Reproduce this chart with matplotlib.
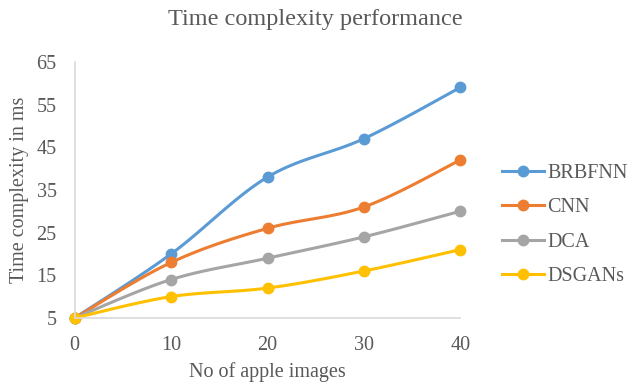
import numpy as np
import matplotlib.pyplot as plt

plt.rcParams['font.family'] = ['Liberation Serif', 'DejaVu Serif']

x_vals = [0, 10, 20, 30, 40]
series_names = ['BRBFNN', 'CNN', 'DCA', 'DSGANs']
brbfnn = [5, 20, 38, 47, 59]
cnn = [5, 18, 26, 31, 42]
dca = [5, 14, 19, 24, 30]
dsgans = [5, 10, 12, 16, 21]
colors = ['#5B9BD5', '#ED7D31', '#A5A5A5', '#FFC000']


def smooth(xs, ys, n=30):
    # excel-like smoothed line: bezier segments with catmull-rom control points
    xs = np.asarray(xs, float)
    ys = np.asarray(ys, float)
    px = np.concatenate([[xs[0]], xs, [xs[-1]]])
    py = np.concatenate([[ys[0]], ys, [ys[-1]]])
    outx, outy = [], []
    t = np.linspace(0, 1, n)
    for i in range(1, len(px) - 2):
        p0 = np.array([px[i], py[i]])
        p3 = np.array([px[i + 1], py[i + 1]])
        p1 = p0 + (np.array([px[i + 1], py[i + 1]]) - np.array([px[i - 1], py[i - 1]])) / 6
        p2 = p3 - (np.array([px[i + 2], py[i + 2]]) - np.array([px[i], py[i]])) / 6
        b = ((1 - t) ** 3)[:, None] * p0 + (3 * (1 - t) ** 2 * t)[:, None] * p1 \
            + (3 * (1 - t) * t ** 2)[:, None] * p2 + (t ** 3)[:, None] * p3
        outx.extend(b[:, 0])
        outy.extend(b[:, 1])
    return outx, outy


fig = plt.figure(figsize=(6.28, 3.84), dpi=100)
ax = fig.add_axes([0.119, 0.172, 0.614, 0.667])

for name, ys, c in zip(series_names, [brbfnn, cnn, dca, dsgans], colors):
    sx, sy = smooth(x_vals, ys)
    ax.plot(sx, sy, color=c, lw=2.2, solid_capstyle='round', clip_on=False)
    ax.plot(x_vals, ys, 'o', color=c, ms=7.5, clip_on=False)
    ax.plot([], [], '-o', color=c, lw=2.2, ms=7.5, label=name)

ax.set_xlim(0, 40)
ax.set_ylim(5, 65)
ax.set_xticks(x_vals)
ax.set_yticks([5, 15, 25, 35, 45, 55, 65])
ax.tick_params(axis='y', length=0, labelsize=14.5, labelcolor='#595959', pad=13)
ax.tick_params(axis='x', length=0, labelsize=14.5, labelcolor='#595959', pad=13)
for s in ['top', 'right']:
    ax.spines[s].set_visible(False)
for s in ['left', 'bottom']:
    ax.spines[s].set_color('#D9D9D9')
    ax.spines[s].set_linewidth(1.2)

ax.set_xlabel('No of apple images', fontsize=14.5, color='#595959')
ax.set_ylabel('Time complexity in ms', fontsize=14.5, color='#595959')
ax.xaxis.set_label_coords(0.5, -0.211)
ax.yaxis.set_label_coords(-0.143, 0.5)
ax.xaxis.label.set_va('center')
ax.yaxis.label.set_va('center')
fig.text(0.502, 0.948, 'Time complexity performance', ha='center', va='center',
         fontsize=17.5, color='#595959')

leg = fig.legend(loc='center left', bbox_to_anchor=(0.787, 0.414), frameon=False,
                 fontsize=14.5, labelspacing=0.75, handlelength=2.05, handletextpad=0.2,
                 borderaxespad=0)
for t in leg.get_texts():
    t.set_color('#595959')

fig.savefig('out.png', dpi=100)
